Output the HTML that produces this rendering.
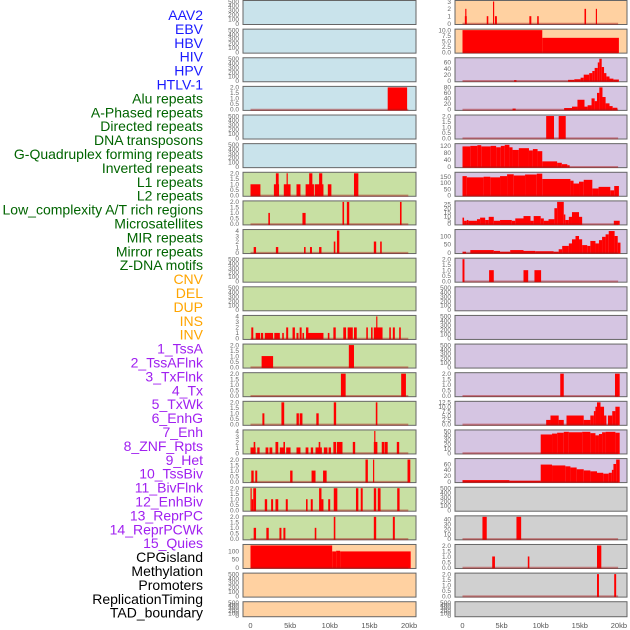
<!DOCTYPE html>
<html><head><meta charset="utf-8"><style>
html,body{margin:0;padding:0;background:#fff;width:630px;height:630px;overflow:hidden}
svg{display:block}
</style></head><body>
<svg id="chart" width="630" height="630" xmlns="http://www.w3.org/2000/svg" font-family="Liberation Sans, sans-serif"></svg>
<script>
// ---- data (kb segments: [start, end, value]) ----
const labels = ["AAV2","EBV","HBV","HIV","HPV","HTLV-1","Alu repeats","A-Phased repeats","Directed repeats","DNA transposons","G-Quadruplex forming repeats","Inverted repeats","L1 repeats","L2 repeats","Low_complexity A/T rich regions","Microsatellites","MIR repeats","Mirror repeats","Z-DNA motifs","CNV","DEL","DUP","INS","INV","1_TssA","2_TssAFlnk","3_TxFlnk","4_Tx","5_TxWk","6_EnhG","7_Enh","8_ZNF_Rpts","9_Het","10_TssBiv","11_BivFlnk","12_EnhBiv","13_ReprPC","14_ReprPCWk","15_Quies","CPGisland","Methylation","Promoters","ReplicationTiming","TAD_boundary"];
const labelGroups = ["b","b","b","b","b","b","g","g","g","g","g","g","g","g","g","g","g","g","g","o","o","o","o","o","p","p","p","p","p","p","p","p","p","p","p","p","p","p","p","k","k","k","k","k"];
const xTicks = [0,5,10,15,20];
const xTickLabels = ["0","5kb","10kb","15kb","20kb"];
const T500=["0","100","200","300","400","500"], T2=["0.0","0.5","1.0","1.5","2.0"], T4=["0","1","2","3","4"];

const L3=[[17.3,19.75,2]];
const L6=[[0,1.25,1],[2.95,3.6,1],[3.2,3.55,2],[4.2,5.05,1],[4.55,4.7,2],[5.8,6.3,1],[6.95,8.0,1],[7.4,7.8,2],[8.1,9.2,1],[8.65,9.05,2],[9.75,10.2,1],[13.05,13.6,2]];
const L7=[[2.25,2.45,1],[6.55,6.95,1],[11.6,11.8,2],[12.15,12.45,2],[18.85,19.05,2]];
const L8=[[0.4,0.7,1],[3.2,3.5,1],[6.75,6.95,1],[7.5,7.75,1],[8.65,8.95,1],[10.5,10.7,2],[10.9,11.2,4],[15.55,15.85,2],[16.35,16.55,2]];
const L11=[[0.1,0.35,2],[0.65,1.2,1],[1.3,1.6,1],[1.8,2.85,1],[3.0,3.7,1],[4.0,4.2,1],[4.5,4.75,2],[5.3,5.6,2],[5.8,6.05,1],[6.2,6.45,2],[6.55,6.75,1],[7.0,7.3,2],[7.1,9.2,1],[9.75,9.95,1],[10.45,10.75,2],[11.7,12.05,2],[12.25,12.9,2],[13.05,13.4,2],[14.6,14.8,2],[15.2,15.4,2],[15.55,16.65,2],[15.85,16.0,4],[17.5,17.7,2],[17.95,18.2,2],[18.75,18.95,2]];
const L12=[[1.4,2.85,1],[12.4,13.05,2]];
const L13=[[11.4,12.0,2],[19.0,19.6,2]];
const L14=[[1.5,1.75,1],[3.9,4.25,2],[5.8,6.1,1],[6.2,6.55,1],[8.3,8.6,1],[10.5,10.8,2],[15.8,16.0,2]];
const L15=[[0,0.65,1],[0.4,0.6,2],[0.85,1.15,1],[1.9,2.25,1],[2.4,2.75,1],[3.15,3.5,2],[3.7,4.2,1],[4.15,4.35,2],[4.5,5.05,1],[5.8,6.3,1],[6.95,7.3,1],[7.6,7.9,1],[8.2,9.0,1],[8.6,8.8,2],[9.25,9.7,1],[9.85,10.15,1],[10.45,10.8,2],[10.9,11.6,2],[12.9,13.2,2],[15.55,16.0,2],[15.6,15.75,4],[16.55,16.9,2],[16.95,17.3,2],[18.45,18.75,2]];
const L16=[[0.1,0.4,1],[0.6,0.85,1],[5.0,5.3,1],[7.7,8.2,1],[9.15,9.6,1],[14.5,14.8,2],[15.45,15.6,2],[19.8,20.15,2]];
const L17=[[0,0.15,2],[0.15,0.35,1],[0.35,0.7,2],[1.8,2.1,1],[2.6,2.85,1],[3.15,3.5,1],[4.45,4.7,1],[7.0,7.2,1],[7.6,7.85,1],[8.65,8.95,2],[8.95,9.2,1],[9.8,10.05,1],[10.5,10.95,2],[13.3,13.6,2],[13.9,14.15,2],[15.55,15.85,2],[16.05,16.4,2],[18.5,18.8,2]];
const L18=[[0.4,0.7,1],[2.0,2.3,1],[3.65,3.9,1],[4.15,4.4,1],[8.1,8.3,1],[10.5,10.7,2],[15.55,15.85,2],[17.95,18.2,2]];
const L19=[[0,10.3,137],[10.3,10.8,100],[10.8,11.3,104],[11.3,20.2,100]];

const R0=[[0.3,0.55,1],[0.35,0.5,2],[3.1,3.3,1],[3.9,4.05,3],[4.15,4.4,1],[8.55,8.8,1],[9.55,9.75,1],[15.6,15.8,2],[17.05,17.2,2]];
const R1=[[0,10.2,10],[10.2,20.0,6.5]];
const R2=[[6.6,6.9,2],[13.5,14.3,3],[14.3,15.1,5],[15.1,15.5,10],[15.5,16.2,20],[16.2,16.6,25],[16.6,16.9,32],[16.9,17.3,42],[17.3,17.5,60],[17.5,17.8,72],[17.8,18.1,45],[18.1,18.4,25],[18.4,18.8,14],[18.8,19.3,7],[19.3,20,4]];
const R3=[[6.4,6.8,3],[13.0,14.0,5],[14.0,14.7,10],[14.7,15.6,35],[15.6,16.0,10],[16.0,16.5,15],[16.5,16.9,40],[16.9,17.2,30],[17.2,17.5,60],[17.5,17.9,80],[17.9,18.3,45],[18.3,18.8,22],[18.8,19.2,12],[19.2,19.8,6]];
const R4=[[10.7,11.7,2],[12.3,13.2,2]];
const R5=[[0,1,115],[1,1.9,118],[1.9,2.4,122],[2.4,3.6,115],[3.6,4.3,118],[4.3,4.9,110],[4.9,5.4,118],[5.4,6.0,124],[6.0,6.4,110],[6.4,7.2,95],[7.2,8.5,105],[8.5,9.0,92],[9.0,9.6,100],[9.6,10.2,88],[10.2,12.1,30],[12.1,12.7,22],[12.7,13.4,14],[13.4,13.7,8]];
const R6=[[0,0.55,155],[0.55,2.7,145],[2.7,3.55,150],[3.55,4.8,145],[4.8,5.7,155],[5.7,6.55,170],[6.55,8.0,160],[8.0,9.5,168],[9.5,10.2,175],[10.2,13.8,132],[13.8,14.2,118],[14.2,14.9,95],[14.9,15.5,110],[15.5,16.6,125],[16.6,17.4,55],[17.4,18.9,68],[18.9,19.4,40],[19.4,20,75]];
const R7=[[0,0.2,8],[0.2,0.55,4],[0.55,0.75,5],[0.75,1.85,4],[1.85,2.25,6],[2.25,2.9,8],[2.9,3.35,5],[3.35,4.0,9],[4.0,4.8,4],[4.8,6.3,5],[6.3,6.75,4],[6.75,7.8,7],[7.8,8.7,10],[8.7,9.1,4],[9.1,10.0,10],[10.0,10.4,7],[10.4,11.0,4],[11.0,11.75,6],[11.75,12.1,20],[12.1,12.95,28],[12.95,13.15,12],[13.15,13.6,5],[13.6,14.0,9],[14.0,14.9,15],[14.9,15.3,9],[19.35,20.1,4]];
const R8=[[0,0.45,5],[1.0,4.0,15],[4.0,4.8,10],[4.8,6.1,5],[6.1,7.8,15],[7.8,9.3,10],[9.3,11.65,8],[11.65,12.3,5],[12.3,12.75,20],[12.75,13.6,40],[13.6,14.0,55],[14.0,14.45,80],[14.45,14.9,100],[14.9,15.3,80],[15.3,15.95,45],[15.95,16.35,40],[16.35,17.0,70],[17.0,17.45,55],[17.45,17.85,75],[17.85,18.3,95],[18.3,18.7,110],[18.7,19.45,130],[19.45,19.85,100],[19.85,20.2,60]];
const R9=[[0,0.25,2],[3.4,4.0,1],[7.8,8.4,1],[9.2,10.05,1]];
const R13=[[12.5,12.95,2],[19.5,20.1,2]];
const R14=[[10.7,11.25,2.5],[11.25,12.3,5],[12.3,12.95,2.5],[13.3,15.5,5],[15.5,16.35,2.5],[16.35,16.8,5],[16.8,17.0,7.5],[17.0,17.2,10],[17.2,17.65,12.5],[17.65,18.1,10],[18.1,18.4,5],[18.6,19.15,5],[19.15,19.55,7.5],[19.55,20.1,10]];
const R15=[[10.0,11.45,42],[11.45,12.1,44],[12.1,12.95,46],[12.95,13.6,48],[13.6,15.3,47],[15.3,16.35,48],[16.35,17.0,45],[17.0,17.45,40],[17.45,17.85,43],[17.85,18.3,47],[18.3,19.55,48],[19.55,20.1,46]];
const R16=[[0,6.0,5],[6.0,10.0,3],[10.0,11.45,58],[11.45,13.15,55],[13.15,13.8,52],[13.8,14.6,48],[14.6,15.5,42],[15.5,16.35,38],[16.35,17.2,35],[17.2,18.0,30],[18.0,18.7,27],[18.7,19.1,30],[19.1,19.3,40],[19.3,19.65,60],[19.65,20.1,75]];
const R18=[[2.55,3.1,45],[6.9,7.5,45]];
const R19=[[3.8,4.15,1],[8.35,8.55,1],[17.2,17.75,2]];
const R20=[[17.2,17.45,2],[19.4,19.65,2]];

// per-row: [data, axisMax, tickLabels, background]
const leftRows=[[null,500,T500,"b"],[null,500,T500,"b"],[null,500,T500,"b"],[L3,2,T2,"b"],[null,500,T500,"b"],[null,500,T500,"b"],
[L6,2,T2,"g"],[L7,2,T2,"g"],[L8,4,T4,"g"],[null,500,T500,"g"],[null,500,T500,"g"],[L11,4,T4,"g"],[L12,2,T2,"g"],[L13,2,T2,"g"],[L14,2,T2,"g"],[L15,4,T4,"g"],[L16,2,T2,"g"],[L17,2,T2,"g"],[L18,2,T2,"g"],
[L19,137,["0","50","100"],"o"],[null,500,T500,"o"],[null,500,T500,"o"]];
const rightRows=[[R0,3,["0","1","2","3"],"o"],[R1,10,["0.0","2.5","5.0","7.5","10.0"],"o"],[R2,72,["0","20","40","60"],"p"],[R3,80,["0","20","40","60","80"],"p"],[R4,2,T2,"p"],[R5,125,["0","40","80","120"],"p"],
[R6,178,["0","50","100","150"],"p"],[R7,28,["0","5","10","15","20","25"],"p"],[R8,133,["0","50","100"],"p"],[R9,2,T2,"p"],[null,500,T500,"p"],[null,500,T500,"p"],[null,500,T500,"p"],[R13,2,T2,"p"],[R14,12.5,["0.0","2.5","5.0","7.5","10.0","12.5"],"p"],[R15,50,["0","10","20","30","40","50"],"p"],[R16,75,["0","20","40","60"],"p"],
[null,500,T500,"k"],[R18,45,["0","10","20","30","40"],"k"],[R19,2,T2,"k"],[R20,2,T2,"k"],[null,500,T500,"k"]];

// ---- drawing ----
const NS="http://www.w3.org/2000/svg";
const svg=document.getElementById("chart");
const BG={b:"#c9e3eb",g:"#c8e0a3",o:"#ffd1a1",p:"#d5c5e2",k:"#d0d0d0"};
const LC={b:"#1a1aff",g:"#006400",o:"#ffa500",p:"#a020f0",k:"#000000"};
function mk(tag,attrs,parent){const e=document.createElementNS(NS,tag);for(const k in attrs)e.setAttribute(k,attrs[k]);(parent||svg).appendChild(e);return e;}

labels.forEach((t,i)=>{
  const e=mk("text",{x:203,y:15+i*13.9+5,"text-anchor":"end","font-size":"14",fill:LC[labelGroups[i]]});
  e.textContent=t;
  
  
});

const cols=[{x0:243,x1:416,z:250.5,s:7.93,rows:leftRows,side:"left"},{x0:455,x1:627,z:462.5,s:7.82,rows:rightRows,side:"right"}];
cols.forEach(c=>{
  const xs=kb=>c.z+kb*c.s;
  c.rows.forEach((r,i)=>{
    const [data,ymax,ticks,bg]=r;
    const top=i*28.63, h=(i===21?16:25), bot=top+h;
    const ys=v=>bot-1.5-v/ymax*(h-3);
    const g=mk("g",{});
    
    
    mk("rect",{x:c.x0,y:top+0.5,width:c.x1-c.x0,height:h-1,fill:BG[bg],stroke:"#666","stroke-width":"1"},g);
    if(data){
      data.forEach(d=>{
        const x=xs(d[0]),w=Math.max(1,xs(d[1])-x);
        const b=mk("rect",{x:x,y:ys(d[2]),width:w,height:ys(0)-ys(d[2])+1,fill:"#ff0000"},g);
        
        
      });
      mk("line",{x1:xs(0),x2:xs(19.9),y1:ys(0)+0.3,y2:ys(0)+0.3,stroke:"rgba(170,20,20,0.45)","stroke-width":"2"},g);
    }
    ticks.forEach(t=>{
      const tl=mk("text",{x:c.x0-4,y:ys(parseFloat(t))+2.3,"text-anchor":"end","font-size":"6.5",fill:"#666"},g);
      tl.textContent=t;
      
      
    });
  });
  xTicks.forEach((v,j)=>{
    const t=mk("text",{x:xs(v),y:628,"text-anchor":"middle","font-size":"7.5",fill:"#555"});
    t.textContent=xTickLabels[j];
    
    
  });
});
</script>
</body></html>
